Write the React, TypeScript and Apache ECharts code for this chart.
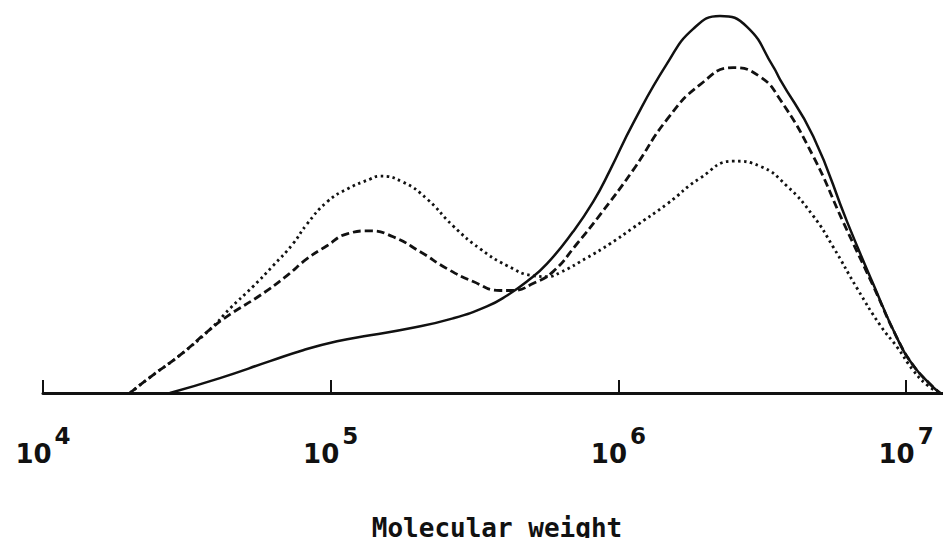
import React, { useEffect, useRef } from "react";
import * as echarts from "echarts";

// x = log10(molecular weight), y = relative height above the baseline
const solidLogM = [4.441, 4.615, 4.789, 4.904, 5.022, 5.137, 5.276, 5.425, 5.543, 5.613, 5.682, 5.752, 5.842, 5.912, 5.971, 6.051, 6.169, 6.26, 6.353, 6.447, 6.538, 6.562, 6.677, 6.795, 6.885, 6.969, 7.024, 7.083, 7.118];
const solidH = [0, 15, 32, 43, 52, 58, 65, 75, 87, 98, 112, 130, 162, 192, 224, 271, 331, 366, 379, 368, 328, 315, 258, 172, 110, 55, 28, 9, 0];

const dashedLogM = [4.302, 4.382, 4.476, 4.581, 4.65, 4.754, 4.848, 4.918, 4.987, 5.057, 5.137, 5.217, 5.311, 5.404, 5.495, 5.589, 5.634, 5.703, 5.773, 5.856, 5.936, 6.051, 6.169, 6.284, 6.399, 6.492, 6.562, 6.677, 6.781, 6.885, 6.969, 7.024, 7.083, 7.118];
const dashedH = [0, 18, 38, 64, 79, 98, 118, 135, 148, 160, 163, 157, 142, 125, 112, 103, 103, 110, 122, 150, 179, 224, 275, 310, 327, 318, 295, 238, 172, 108, 55, 28, 9, 0];

const dottedLogM = [4.302, 4.382, 4.476, 4.581, 4.65, 4.73, 4.8, 4.869, 4.918, 4.987, 5.057, 5.137, 5.171, 5.251, 5.335, 5.425, 5.519, 5.613, 5.703, 5.752, 5.797, 5.891, 5.971, 6.051, 6.169, 6.284, 6.399, 6.492, 6.586, 6.677, 6.746, 6.83, 6.91, 6.969, 7.024, 7.073, 7.118];
const dottedH = [0, 18, 38, 64, 85, 107, 128, 150, 170, 192, 205, 215, 218, 212, 195, 168, 145, 128, 118, 117, 121, 136, 150, 166, 190, 216, 233, 228, 208, 178, 147, 105, 68, 46, 23, 8, 0];

const tickExponents = [4, 5, 6, 7];
const axisName = "Molecular weight";

const zip = (xs: number[], ys: number[]) => xs.map((x, i) => [x, ys[i]]);

export default function App() {
  const ref = useRef<HTMLDivElement>(null);
  useEffect(() => {
    if (!ref.current) return;
    const chart = echarts.init(ref.current, null, { renderer: "svg" });
    const ink = "#111";
    const lineBase = { type: "line", symbol: "none", smooth: 0.5, silent: true };
    chart.setOption({
      animation: false,
      backgroundColor: "#ffffff",
      grid: { left: 43, right: 0, top: 0, bottom: 151 },
      xAxis: {
        type: "value",
        min: 4,
        max: 7.156,
        interval: 1,
        name: axisName,
        nameLocation: "middle",
        nameGap: 122,
        nameTextStyle: { fontFamily: "DejaVu Sans Mono", fontWeight: "bold", fontSize: 26, color: ink },
        axisLine: { show: true, onZero: false, lineStyle: { color: ink, width: 3 } },
        axisTick: { show: true, inside: true, length: 13, customValues: tickExponents, lineStyle: { color: ink, width: 2 } },
        splitLine: { show: false },
        axisLabel: {
          customValues: tickExponents,
          margin: 30,
          formatter: (v: number) => `{b|10}{s|${Math.round(v)}}`,
          rich: {
            b: { fontFamily: "DejaVu Sans", fontWeight: "bold", fontSize: 26, color: ink, verticalAlign: "bottom", lineHeight: 44 },
            s: { fontFamily: "DejaVu Sans", fontWeight: "bold", fontSize: 23, color: ink, verticalAlign: "bottom", lineHeight: 44, padding: [0, 0, 20, 3] },
          },
        },
      },
      yAxis: { type: "value", min: 0, max: 395, show: false },
      series: [
        { ...lineBase, name: "solid", data: zip(solidLogM, solidH), lineStyle: { color: ink, width: 2.5, type: "solid" } },
        { ...lineBase, name: "dashed", data: zip(dashedLogM, dashedH), lineStyle: { color: ink, width: 2.8, type: [8, 4] } },
        { ...lineBase, name: "dotted", data: zip(dottedLogM, dottedH), lineStyle: { color: ink, width: 2.8, type: [2.5, 3.5] } },
      ],
    });
    return () => chart.dispose();
  }, []);
  return <div ref={ref} style={{ width: 951, height: 546, margin: -8 }} />;
}
